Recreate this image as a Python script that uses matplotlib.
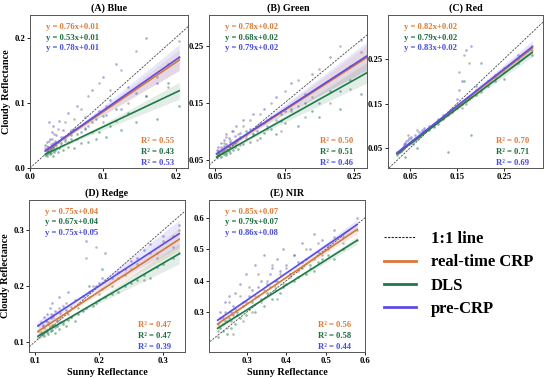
import numpy as np
import matplotlib
matplotlib.use("Agg")
import matplotlib.pyplot as plt
from matplotlib.lines import Line2D

plt.rcParams['font.family'] = ['Liberation Serif', 'DejaVu Serif']
plt.rcParams['font.weight'] = 'bold'

# ---------------- data ----------------
titles = ["(A) Blue", "(B) Green", "(C) Red", "(D) Redge", "(E) NIR"]
methods = ["real-time CRP", "DLS", "pre-CRP"]

slopes = [[0.76, 0.53, 0.78], [0.78, 0.68, 0.79], [0.82, 0.79, 0.83],
          [0.75, 0.67, 0.75], [0.85, 0.79, 0.86]]
intercepts = [[0.01, 0.01, 0.01], [0.02, 0.02, 0.02], [0.02, 0.02, 0.02],
              [0.04, 0.04, 0.05], [0.07, 0.07, 0.08]]
r2 = [[0.55, 0.43, 0.53], [0.50, 0.51, 0.46], [0.70, 0.71, 0.69],
      [0.47, 0.47, 0.39], [0.56, 0.58, 0.44]]
band_end = [[0.016, 0.013, 0.020], [0.022, 0.018, 0.025], [0.012, 0.010, 0.014],
            [0.020, 0.018, 0.024], [0.014, 0.012, 0.016]]

x_A = [0.021,0.023,0.024,0.025,0.026,0.027,0.028,0.029,0.030,0.031,0.032,0.033,0.035,0.036,0.038,0.040,0.042,0.045,0.048,0.052,0.056,0.060,0.065,0.070,0.075,0.080,0.085,0.090,0.095,0.100,0.105,0.110,0.118,0.125,0.135,0.145,0.160,0.175,0.190,0.205]
rt_A = [0.030,0.025,0.034,0.028,0.041,0.031,0.026,0.037,0.045,0.033,0.029,0.052,0.038,0.030,0.060,0.042,0.035,0.048,0.070,0.040,0.058,0.075,0.045,0.090,0.062,0.110,0.055,0.082,0.130,0.070,0.095,0.120,0.072,0.150,0.100,0.180,0.110,0.140,0.125,0.195]
dls_A = [0.020,0.022,0.018,0.026,0.024,0.021,0.030,0.023,0.027,0.019,0.032,0.025,0.028,0.035,0.024,0.030,0.038,0.027,0.042,0.033,0.045,0.030,0.052,0.038,0.060,0.040,0.070,0.045,0.055,0.080,0.048,0.065,0.090,0.058,0.085,0.070,0.110,0.075,0.130,0.095]
pre_A = [0.035,0.028,0.040,0.032,0.070,0.030,0.045,0.033,0.055,0.038,0.065,0.036,0.042,0.050,0.040,0.072,0.048,0.058,0.045,0.085,0.050,0.060,0.095,0.055,0.078,0.065,0.120,0.075,0.088,0.140,0.082,0.105,0.160,0.090,0.125,0.115,0.200,0.130,0.160,0.170]

x_B = [0.052,0.054,0.056,0.058,0.060,0.062,0.063,0.065,0.066,0.068,0.070,0.072,0.074,0.076,0.078,0.080,0.083,0.086,0.090,0.095,0.100,0.105,0.110,0.115,0.120,0.125,0.130,0.138,0.145,0.150,0.160,0.170,0.180,0.190,0.200,0.215,0.230,0.245,0.260,0.270]
rt_B = [0.060,0.065,0.058,0.072,0.063,0.080,0.066,0.070,0.090,0.068,0.075,0.085,0.072,0.100,0.078,0.082,0.095,0.076,0.110,0.088,0.120,0.095,0.085,0.130,0.115,0.105,0.150,0.120,0.100,0.170,0.135,0.190,0.125,0.160,0.210,0.150,0.250,0.175,0.240,0.200]
dls_B = [0.055,0.058,0.062,0.056,0.065,0.060,0.070,0.063,0.058,0.075,0.066,0.062,0.080,0.068,0.072,0.085,0.070,0.090,0.078,0.100,0.082,0.095,0.110,0.088,0.098,0.120,0.105,0.095,0.130,0.115,0.140,0.110,0.150,0.135,0.125,0.170,0.140,0.190,0.165,0.180]
pre_B = [0.068,0.072,0.064,0.080,0.070,0.085,0.075,0.078,0.095,0.074,0.088,0.082,0.100,0.080,0.092,0.110,0.086,0.098,0.120,0.094,0.105,0.130,0.100,0.115,0.140,0.110,0.125,0.160,0.118,0.135,0.185,0.145,0.165,0.200,0.150,0.230,0.170,0.215,0.260,0.220]

x_C = [0.022,0.024,0.026,0.028,0.030,0.032,0.034,0.036,0.038,0.040,0.042,0.045,0.048,0.052,0.056,0.060,0.065,0.070,0.075,0.080,0.090,0.100,0.110,0.120,0.130,0.140,0.150,0.155,0.160,0.165,0.170,0.175,0.180,0.190,0.200,0.215,0.230,0.250,0.280,0.310]
rt_C = [0.038,0.040,0.042,0.045,0.044,0.048,0.050,0.052,0.055,0.060,0.055,0.080,0.062,0.070,0.065,0.072,0.090,0.075,0.085,0.090,0.095,0.100,0.110,0.120,0.125,0.135,0.150,0.220,0.140,0.260,0.150,0.240,0.165,0.180,0.175,0.200,0.210,0.220,0.250,0.270]
dls_C = [0.035,0.038,0.040,0.041,0.044,0.045,0.047,0.050,0.052,0.030,0.055,0.058,0.060,0.062,0.065,0.068,0.050,0.075,0.080,0.085,0.090,0.098,0.105,0.115,0.040,0.130,0.140,0.145,0.150,0.200,0.155,0.160,0.080,0.170,0.180,0.190,0.200,0.205,0.240,0.260]
pre_C = [0.040,0.042,0.044,0.046,0.048,0.050,0.053,0.055,0.058,0.062,0.065,0.068,0.072,0.075,0.060,0.080,0.070,0.085,0.090,0.095,0.100,0.105,0.115,0.125,0.130,0.140,0.160,0.180,0.200,0.155,0.270,0.165,0.280,0.190,0.240,0.200,0.215,0.230,0.260,0.280]

x_D = [0.105,0.110,0.113,0.115,0.117,0.119,0.121,0.123,0.125,0.127,0.129,0.131,0.134,0.137,0.140,0.144,0.148,0.152,0.157,0.162,0.168,0.175,0.180,0.185,0.190,0.195,0.200,0.205,0.210,0.220,0.230,0.240,0.250,0.260,0.270,0.280,0.290,0.300,0.315,0.325]
rt_D = [0.120,0.118,0.130,0.125,0.140,0.122,0.135,0.128,0.150,0.131,0.145,0.126,0.138,0.160,0.142,0.135,0.170,0.150,0.145,0.165,0.160,0.175,0.250,0.180,0.200,0.270,0.185,0.195,0.210,0.200,0.215,0.220,0.230,0.240,0.210,0.260,0.250,0.280,0.270,0.300]
dls_D = [0.108,0.112,0.115,0.110,0.120,0.118,0.114,0.125,0.119,0.122,0.130,0.116,0.128,0.124,0.135,0.132,0.128,0.140,0.145,0.138,0.150,0.155,0.160,0.200,0.165,0.170,0.175,0.230,0.180,0.185,0.190,0.200,0.205,0.210,0.220,0.215,0.235,0.240,0.250,0.260]
pre_D = [0.130,0.135,0.128,0.145,0.138,0.150,0.132,0.160,0.142,0.170,0.148,0.155,0.140,0.180,0.152,0.165,0.158,0.190,0.162,0.175,0.168,0.182,0.280,0.190,0.300,0.200,0.205,0.215,0.260,0.215,0.225,0.230,0.245,0.250,0.265,0.275,0.260,0.290,0.290,0.310]

x_E = [0.225,0.232,0.238,0.243,0.248,0.253,0.258,0.263,0.268,0.275,0.282,0.290,0.298,0.305,0.312,0.320,0.328,0.335,0.342,0.350,0.357,0.364,0.370,0.377,0.384,0.392,0.400,0.410,0.420,0.430,0.440,0.450,0.460,0.470,0.480,0.490,0.505,0.520,0.545,0.580]
rt_E = [0.240,0.280,0.260,0.300,0.250,0.330,0.270,0.230,0.310,0.290,0.350,0.270,0.330,0.380,0.300,0.350,0.420,0.330,0.370,0.400,0.360,0.450,0.380,0.340,0.420,0.390,0.440,0.410,0.480,0.430,0.460,0.500,0.440,0.470,0.520,0.480,0.500,0.540,0.520,0.560]
dls_E = [0.220,0.250,0.240,0.270,0.230,0.280,0.250,0.290,0.260,0.300,0.280,0.320,0.290,0.310,0.330,0.300,0.350,0.340,0.320,0.360,0.380,0.340,0.370,0.400,0.360,0.380,0.390,0.420,0.400,0.410,0.440,0.420,0.450,0.430,0.460,0.470,0.480,0.470,0.500,0.530]
pre_E = [0.260,0.300,0.280,0.330,0.270,0.350,0.300,0.320,0.360,0.290,0.390,0.330,0.420,0.350,0.370,0.450,0.380,0.400,0.480,0.390,0.420,0.440,0.400,0.470,0.430,0.500,0.450,0.420,0.480,0.460,0.520,0.470,0.500,0.550,0.490,0.530,0.510,0.560,0.540,0.600]

xs = [x_A, x_B, x_C, x_D, x_E]
ys = [[rt_A, dls_A, pre_A], [rt_B, dls_B, pre_B], [rt_C, dls_C, pre_C],
      [rt_D, dls_D, pre_D], [rt_E, dls_E, pre_E]]

xlims = [(0.0, 0.217), (0.041, 0.269), (0.003, 0.333), (0.091, 0.334), (0.203, 0.600)]
ylims = [(0.0, 0.235), (0.036, 0.304), (0.005, 0.349), (0.082, 0.354), (0.172, 0.657)]
xticks = [[0.0, 0.1, 0.2], [0.05, 0.15, 0.25], [0.05, 0.15, 0.25], [0.1, 0.2, 0.3], [0.3, 0.4, 0.5, 0.6]]
xticklabels = [["0.0", "0.1", "0.2"], ["0.05", "0.15", "0.25"], ["0.05", "0.15", "0.25"],
               ["0.1", "0.2", "0.3"], ["0.3", "0.4", "0.5", "0.6"]]
yticks = [[0.0, 0.1, 0.2], [0.05, 0.15, 0.25], [0.05, 0.15, 0.25], [0.1, 0.2, 0.3], [0.3, 0.4, 0.5, 0.6]]
yticklabels = [["0.0", "0.1", "0.2"], ["0.05", "0.15", "0.25"], ["0.05", "0.15", "0.25"],
               ["0.1", "0.2", "0.3"], ["0.3", "0.4", "0.5", "0.6"]]

# ---------------- style ----------------
line_colors = ['#D9773A', '#1F7A48', '#5B4DE8']
text_colors = ['#E07A35', '#1E6E42', '#4A4CE0']
pt_colors = ['#9C8C84', '#3E8E64', '#6E74C8']

W, H = 550, 378
boxes = [(30, 15, 158, 153), (209, 15, 158, 153), (388, 15, 155, 153),
         (29, 200, 156, 152), (209, 200, 156, 152)]

fig = plt.figure(figsize=(5.5, 3.78), dpi=100)

for i in range(5):
    l, t, w, h = boxes[i]
    ax = fig.add_axes([l / W, 1 - (t + h) / H, w / W, h / H])
    x = np.array(xs[i])
    ax.plot([0, 1], [0, 1], ls=(0, (2.5, 1.5)), color='#444444', lw=0.6, zorder=1)
    for m in range(3):
        ax.scatter(x, ys[i][m], s=3.5, color=pt_colors[m], alpha=0.6, lw=0, zorder=2)
    xx = np.linspace(x.min(), x.max(), 100)
    x0 = np.median(x)
    for m in range(3):
        yy = slopes[i][m] * xx + intercepts[i][m]
        hmin = band_end[i][m] * 0.15
        hw = np.sqrt(hmin ** 2 + (band_end[i][m] ** 2 - hmin ** 2) * ((xx - x0) / (x.max() - x0)) ** 2)
        ax.fill_between(xx, yy - hw, yy + hw, color=line_colors[m], alpha=0.13, lw=0, zorder=3)
    for m in range(3):
        yy = slopes[i][m] * xx + intercepts[i][m]
        ax.plot(xx, yy, color=line_colors[m], lw=1.2, zorder=4)
    for m in range(3):
        ax.text(0.10, 0.92 - 0.068 * m,
                f"y = {slopes[i][m]:.2f}x+{intercepts[i][m]:.2f}",
                transform=ax.transAxes, color=text_colors[m], fontsize=6.2,
                fontweight='bold', va='center', ha='left')
        ax.text(0.70, 0.175 - 0.072 * m, f"R² = {r2[i][m]:.2f}",
                transform=ax.transAxes, color=text_colors[m], fontsize=6.2,
                fontweight='bold', va='center', ha='left')
    ax.set_xlim(*xlims[i])
    ax.set_ylim(*ylims[i])
    ax.set_xticks(xticks[i])
    ax.set_xticklabels(xticklabels[i])
    ax.set_yticks(yticks[i])
    ax.set_yticklabels(yticklabels[i])
    ax.tick_params(labelsize=6.2, length=2, width=0.6, pad=1.5)
    for lab in ax.get_xticklabels() + ax.get_yticklabels():
        lab.set_fontweight('bold')
    for sp in ax.spines.values():
        sp.set_color('#555555')
        sp.set_linewidth(0.7)
    ax.set_title(titles[i], fontsize=7.2, fontweight='bold', pad=3)
    if i in (0, 3):
        ax.set_ylabel("Cloudy Reflectance", fontsize=7.3, fontweight='bold', labelpad=2)
    if i in (3, 4):
        ax.set_xlabel("Sunny Reflectance", fontsize=7.3, fontweight='bold', labelpad=2)

handles = [Line2D([], [], color='#222222', ls=(0, (2, 1.2)), lw=0.8)] + \
          [Line2D([], [], color=c, lw=2.0) for c in line_colors]
labels = ["1:1 line"] + methods
fig.legend(handles, labels, loc='upper left', bbox_to_anchor=(369 / W, 1 - 216 / H),
           frameon=False, handlelength=1.9, handletextpad=0.9,
           labelspacing=0.44, prop={'weight': 'bold', 'size': 12})

fig.savefig("out.png", dpi=100)
